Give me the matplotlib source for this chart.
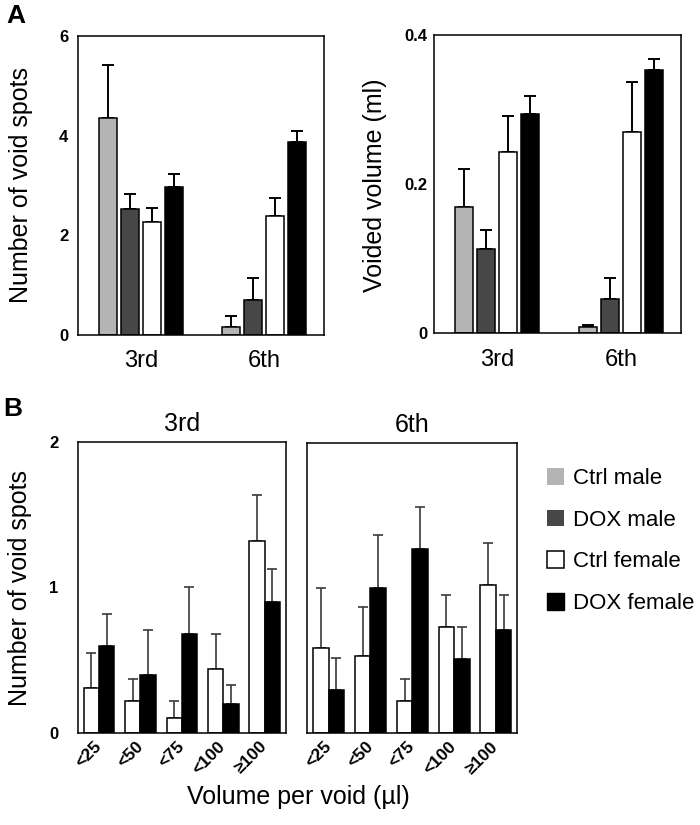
import numpy as np
import matplotlib.pyplot as plt
from matplotlib.patches import Patch

plt.rcParams['font.family'] = ['Liberation Sans', 'DejaVu Sans']

groups = ['Ctrl male', 'DOX male', 'Ctrl female', 'DOX female']
colors = ['#b4b4b4', '#474747', 'white', 'black']
weeks = ['3rd', '6th']

# panel A, one row per group: values for 3rd, 6th week
spots_mean = [[4.35, 0.17], [2.52, 0.70], [2.26, 2.39], [2.97, 3.88]]
spots_err = [[1.06, 0.21], [0.31, 0.45], [0.29, 0.36], [0.26, 0.22]]
vol_mean = [[0.169, 0.009], [0.1125, 0.0455], [0.243, 0.269], [0.294, 0.353]]
vol_err = [[0.051, 0.0025], [0.0265, 0.029], [0.048, 0.068], [0.024, 0.015]]

# panel B, females only
bins = ['<25', '<50', '<75', '<100', '≥100']
b3_ctrl = [0.31, 0.22, 0.10, 0.44, 1.32]
b3_ctrl_err = [0.24, 0.15, 0.115, 0.24, 0.32]
b3_dox = [0.60, 0.40, 0.68, 0.20, 0.90]
b3_dox_err = [0.215, 0.31, 0.32, 0.13, 0.23]
b6_ctrl = [0.59, 0.53, 0.22, 0.73, 1.02]
b6_ctrl_err = [0.41, 0.34, 0.15, 0.22, 0.29]
b6_dox = [0.30, 1.00, 1.27, 0.51, 0.71]
b6_dox_err = [0.22, 0.37, 0.29, 0.22, 0.245]


def style_axes(ax):
    for s in ax.spines.values():
        s.set_linewidth(1.1)
    ax.tick_params(length=0)
    for lab in ax.get_yticklabels():
        lab.set_fontweight('bold')


def panel_a(ax, means, errs, yticks, yticklabels):
    x = np.arange(len(weeks))
    for i in range(len(groups)):
        xi = x + (i - 1.5) * 0.178
        ax.bar(xi, means[i], width=0.146, color=colors[i], edgecolor='black',
               linewidth=1.1, zorder=2)
        ax.errorbar(xi, means[i], yerr=[np.zeros(len(weeks)), errs[i]], fmt='none',
                    ecolor='black', elinewidth=1.4, capsize=4, capthick=1.4, zorder=1)
    ax.set_xlim(-0.508, 1.484)
    ax.set_ylim(yticks[0], yticks[-1])
    ax.set_yticks(yticks)
    ax.set_yticklabels(yticklabels, fontsize=12)
    ax.set_xticks(x)
    ax.set_xticklabels(weeks, fontsize=17)
    style_axes(ax)
    ax.tick_params(axis='y', pad=7)
    ax.tick_params(axis='x', pad=11)


def panel_b(ax, ctrl, ctrl_err, dox, dox_err, title):
    x = np.arange(len(bins))
    zero = np.zeros(len(bins))
    ax.bar(x - 0.185, ctrl, width=0.37, color='white', edgecolor='black', linewidth=1.1, zorder=2)
    ax.bar(x + 0.185, dox, width=0.37, color='black', edgecolor='black', linewidth=1.1, zorder=2)
    ax.errorbar(x - 0.185, ctrl, yerr=[zero, ctrl_err], fmt='none', ecolor='#3a3a3a',
                elinewidth=1.2, capsize=3.5, capthick=1.2, zorder=1)
    ax.errorbar(x + 0.185, dox, yerr=[zero, dox_err], fmt='none', ecolor='#3a3a3a',
                elinewidth=1.2, capsize=3.5, capthick=1.2, zorder=1)
    ax.set_xlim(-0.51, 4.51)
    ax.set_ylim(0, 2)
    ax.set_xticks(x)
    ax.set_xticklabels(bins, fontsize=12.5, fontweight='bold', rotation=45,
                       ha='right', va='center', rotation_mode='anchor')
    ax.set_title(title, fontsize=18, pad=8)
    style_axes(ax)
    ax.tick_params(axis='x', pad=8)


fig = plt.figure(figsize=(7, 8.25), dpi=100)

ax1 = fig.add_axes([0.1114, 0.5939, 0.3514, 0.3624])
panel_a(ax1, spots_mean, spots_err, [0, 2, 4, 6], ['0', '2', '4', '6'])
ax2 = fig.add_axes([0.6204, 0.5960, 0.3524, 0.3620])
panel_a(ax2, vol_mean, vol_err, [0, 0.2, 0.4], ['0', '0.2', '0.4'])
ax2.tick_params(axis='y', pad=5)

ax3 = fig.add_axes([0.1114, 0.1119, 0.2967, 0.3520])
panel_b(ax3, b3_ctrl, b3_ctrl_err, b3_dox, b3_dox_err, '3rd')
ax3.set_yticks([0, 1, 2])
ax3.set_yticklabels(['0', '1', '2'], fontsize=12, fontweight='bold')
ax3.tick_params(axis='y', pad=14)
ax4 = fig.add_axes([0.4390, 0.1115, 0.3000, 0.3512])
panel_b(ax4, b6_ctrl, b6_ctrl_err, b6_dox, b6_dox_err, '6th')
ax4.set_yticks([])

# axis labels
fig.text(21 / 700, 1 - 185 / 825, 'Number of void spots', rotation=90,
         ha='center', va='center', fontsize=18)
fig.text(375 / 700, 1 - 185 / 825, 'Voided volume (ml)', rotation=90,
         ha='center', va='center', fontsize=18)
fig.text(20 / 700, 1 - 588 / 825, 'Number of void spots', rotation=90,
         ha='center', va='center', fontsize=18)
fig.text(298 / 700, 1 - 797 / 825, 'Volume per void (µl)',
         ha='center', va='center', fontsize=18)
fig.text(16 / 700, 1 - 16 / 825, 'A', ha='center', va='center',
         fontsize=19, fontweight='bold')
fig.text(13 / 700, 1 - 409 / 825, 'B', ha='center', va='center',
         fontsize=19, fontweight='bold')

handles = [Patch(facecolor=colors[0], edgecolor='none'),
           Patch(facecolor=colors[1], edgecolor='none'),
           Patch(facecolor=colors[2], edgecolor='black', linewidth=1.1),
           Patch(facecolor=colors[3], edgecolor='black')]
fig.legend(handles, groups, loc='upper left', bbox_to_anchor=(547 / 700, 1 - 468 / 825),
           frameon=False, fontsize=16, handlelength=0.77, handleheight=0.77,
           handletextpad=0.4, labelspacing=0.93, borderpad=0, borderaxespad=0)

fig.savefig('out.png', dpi=100)
